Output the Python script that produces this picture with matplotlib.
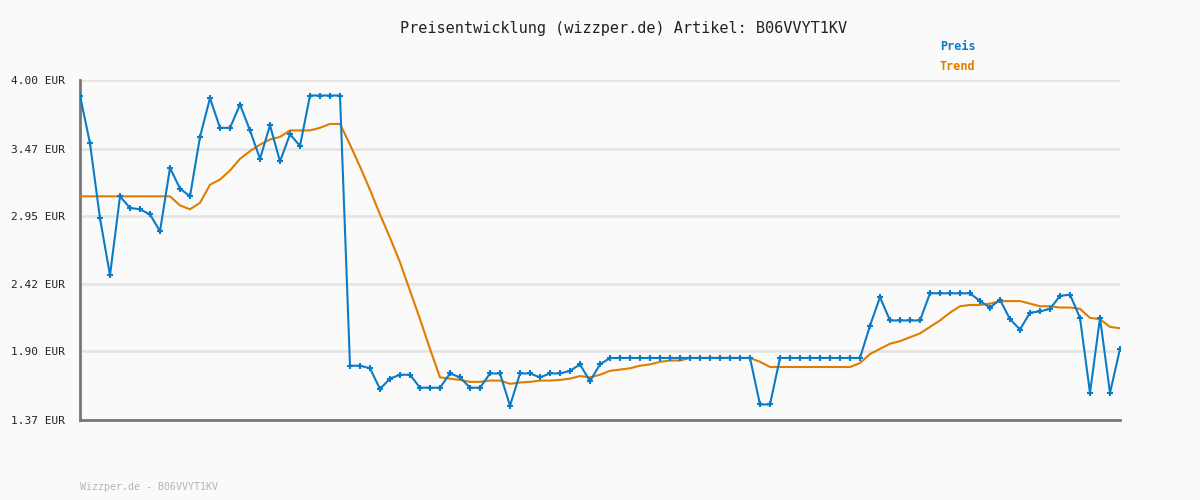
import numpy as np
import matplotlib
matplotlib.use("Agg")
import matplotlib.pyplot as plt

# price history (EUR), one value per recorded day
preis = [3.88, 3.51, 2.93, 2.49, 3.10, 3.01, 3.00, 2.96, 2.83, 3.32,
         3.16, 3.10, 3.56, 3.86, 3.63, 3.63, 3.81, 3.61, 3.39, 3.65,
         3.37, 3.58, 3.49, 3.88, 3.88, 3.88, 3.88,
         1.79, 1.79, 1.77, 1.61, 1.69, 1.72, 1.72, 1.62, 1.62, 1.62,
         1.73, 1.70, 1.62, 1.62, 1.73, 1.73, 1.48, 1.73, 1.73, 1.70,
         1.73, 1.73, 1.75, 1.80, 1.67, 1.80,
         1.85, 1.85, 1.85, 1.85, 1.85, 1.85, 1.85, 1.85, 1.85, 1.85,
         1.85, 1.85, 1.85, 1.85, 1.85,
         1.49, 1.49,
         1.85, 1.85, 1.85, 1.85, 1.85, 1.85, 1.85, 1.85, 1.85,
         2.10, 2.32, 2.14, 2.14, 2.14, 2.14, 2.35, 2.35, 2.35, 2.35,
         2.35, 2.29, 2.24, 2.30, 2.15, 2.07, 2.20, 2.21, 2.23, 2.33,
         2.34, 2.16, 1.58, 2.16, 1.58, 1.92]

trend = [3.10, 3.10, 3.10, 3.10, 3.10, 3.10, 3.10, 3.10, 3.10, 3.10,
         3.03, 3.00, 3.05, 3.19, 3.23, 3.30, 3.39, 3.45, 3.50, 3.54,
         3.56, 3.61, 3.61, 3.61, 3.63, 3.66, 3.66,
         3.50, 3.33, 3.15, 2.96, 2.78, 2.59, 2.37, 2.15, 1.92, 1.70,
         1.69, 1.68, 1.665, 1.665, 1.675, 1.675, 1.65, 1.66, 1.665, 1.675,
         1.675, 1.68, 1.69, 1.71, 1.70, 1.72,
         1.75, 1.76, 1.77, 1.79, 1.80, 1.82, 1.83, 1.83, 1.85, 1.85,
         1.85, 1.85, 1.85, 1.85, 1.85,
         1.82,
         1.78, 1.78, 1.78, 1.78, 1.78, 1.78, 1.78, 1.78, 1.78,
         1.81, 1.88, 1.92, 1.96, 1.98, 2.01, 2.04, 2.09, 2.14, 2.20,
         2.25, 2.26, 2.26, 2.27, 2.29, 2.29, 2.29, 2.27, 2.25, 2.25,
         2.24, 2.24, 2.23, 2.16, 2.15, 2.09, 2.08]

yticks = [1.37, 1.90, 2.42, 2.95, 3.47, 4.00]
ytick_labels = ["1.37 EUR", "1.90 EUR", "2.42 EUR", "2.95 EUR", "3.47 EUR", "4.00 EUR"]

blau = "#0b7bc6"
orange = "#e07c00"
bg = "#fafafa"
mono = "DejaVu Sans Mono"

fig = plt.figure(figsize=(12, 5), dpi=100, facecolor=bg)
ax = fig.add_axes([80/1200, 80/500, 1040/1200, 340/500])
ax.set_facecolor(bg)

x = np.arange(len(preis))
ax.plot(x, trend, color=orange, lw=1.5, zorder=3)
ax.plot(x, preis, color=blau, lw=1.5, marker="+", ms=4.5, mew=1.5, zorder=4)

ax.set_xlim(0, len(preis) - 1)
ax.set_ylim(yticks[0], yticks[-1])
ax.set_yticks(yticks)
ax.set_yticklabels(ytick_labels, family=mono, fontsize=8, color="#222222")
ax.set_xticks([])
ax.tick_params(axis="y", length=0, pad=11)
ax.grid(axis="y", color="#e3e3e3", lw=1.8, zorder=0)

for s in ["top", "right"]:
    ax.spines[s].set_visible(False)
for s in ["left", "bottom"]:
    ax.spines[s].set_color("#777777")
    ax.spines[s].set_linewidth(2)

fig.text(624/1200, 1 - 28/500, "Preisentwicklung (wizzper.de) Artikel: B06VVYT1KV",
         family=mono, fontsize=11, color="#222222", ha="center", va="center")
fig.text(940/1200, 1 - 46/500, "Preis", family=mono, fontsize=8.5,
         weight="bold", color=blau, ha="left", va="center")
fig.text(940/1200, 1 - 67/500, "Trend", family=mono, fontsize=8.5,
         weight="bold", color=orange, ha="left", va="center")
fig.text(80/1200, 1 - 487/500, "Wizzper.de - B06VVYT1KV", family=mono,
         fontsize=7.2, color="#b5b5b5", ha="left", va="center")

fig.savefig("out.png", dpi=100, facecolor=bg)
